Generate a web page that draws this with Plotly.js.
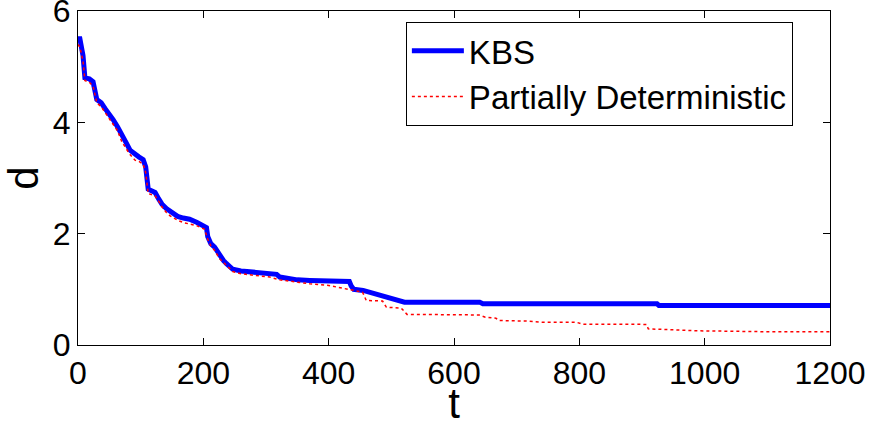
<!DOCTYPE html>
<html>
<head>
<meta charset="utf-8">
<script src="https://cdn.plot.ly/plotly-3.0.1.min.js"></script>
<style>
  html, body { margin: 0; padding: 0; background: #fff; }
  #chart { width: 872px; height: 427px; }
</style>
</head>
<body>
<div id="chart"></div>
<script>
// Distance d over time t for the two strategies
const tKBS = [0, 3, 8, 11, 18, 24, 30, 37, 43, 50, 56, 63, 70, 77, 83, 91, 97, 104, 108, 112, 118, 123, 129, 134, 141, 147, 153, 159, 168, 178, 190, 202, 205, 207, 212, 218, 222, 226, 232, 237, 242, 247, 260, 274, 290, 306, 317, 322, 333, 350, 370, 400, 433, 436, 440, 455, 465, 480, 490, 497, 510, 521, 560, 600, 641, 646, 700, 800, 924, 927, 1000, 1100, 1200];
const dKBS = [5.5, 5.5, 5.2, 4.8, 4.78, 4.73, 4.41, 4.35, 4.25, 4.15, 4.05, 3.92, 3.75, 3.63, 3.5, 3.42, 3.38, 3.33, 3.2, 2.8, 2.76, 2.74, 2.62, 2.53, 2.45, 2.4, 2.35, 2.31, 2.28, 2.26, 2.2, 2.12, 2.11, 1.95, 1.82, 1.76, 1.68, 1.6, 1.52, 1.46, 1.4, 1.36, 1.33, 1.31, 1.3, 1.28, 1.27, 1.22, 1.2, 1.17, 1.16, 1.15, 1.14, 1.06, 1.0, 0.98, 0.95, 0.9, 0.88, 0.86, 0.82, 0.77, 0.77, 0.77, 0.77, 0.74, 0.74, 0.74, 0.74, 0.71, 0.71, 0.71, 0.71];

const tPD = [0, 3, 8, 11, 18, 24, 30, 37, 43, 50, 56, 63, 70, 77, 83, 91, 97, 104, 108, 112, 118, 123, 129, 134, 141, 147, 153, 159, 168, 178, 190, 202, 207, 212, 218, 226, 237, 247, 260, 274, 290, 306, 322, 340, 370, 400, 434, 454, 460, 486, 492, 516, 525, 560, 600, 640, 650, 667, 672, 715, 741, 795, 805, 907, 910, 990, 1090, 1200];
const dPD = [5.4, 5.35, 5.1, 4.75, 4.72, 4.65, 4.35, 4.28, 4.18, 4.07, 3.97, 3.85, 3.65, 3.52, 3.42, 3.32, 3.3, 3.25, 3.1, 2.72, 2.7, 2.68, 2.58, 2.48, 2.38, 2.32, 2.28, 2.24, 2.2, 2.17, 2.14, 2.08, 1.9, 1.78, 1.7, 1.55, 1.42, 1.32, 1.28, 1.26, 1.25, 1.22, 1.17, 1.14, 1.1, 1.07, 1.0, 0.95, 0.8, 0.79, 0.68, 0.66, 0.55, 0.55, 0.54, 0.54, 0.5, 0.48, 0.44, 0.43, 0.41, 0.41, 0.375, 0.37, 0.29, 0.255, 0.24, 0.24];

const seriesNames = ['KBS', 'Partially Deterministic'];
const xTicks = [0, 200, 400, 600, 800, 1000, 1200];
const yTicks = [0, 2, 4, 6];

const FONT = 'Liberation Sans, Arial, sans-serif';

const traces = [
  {
    x: tKBS, y: dKBS, name: seriesNames[0], mode: 'lines', type: 'scatter',
    line: { color: 'rgb(0,0,255)', width: 5 }
  },
  {
    x: tPD, y: dPD, name: seriesNames[1], mode: 'lines', type: 'scatter',
    line: { color: 'rgb(255,0,0)', width: 1.5, dash: 'dot' }
  }
];

const axisCommon = {
  showline: true, linecolor: '#000', linewidth: 1, mirror: 'ticks',
  ticks: 'inside', ticklen: 7, tickcolor: '#000', tickwidth: 1,
  showgrid: false, zeroline: false,
  ticklabeloverflow: 'allow',
  tickfont: { family: FONT, size: 32, color: '#000' }
};

const layout = {
  width: 872, height: 427,
  margin: { l: 78, r: 42, t: 11, b: 82 },
  paper_bgcolor: '#fff', plot_bgcolor: '#fff',
  showlegend: true,
  xaxis: Object.assign({}, axisCommon, {
    range: [0, 1200], tickvals: xTicks, ticktext: xTicks.map(String),
    title: { text: 't', font: { family: FONT, size: 42, color: '#000' }, standoff: 2 }
  }),
  yaxis: Object.assign({}, axisCommon, {
    range: [0, 6], tickvals: yTicks, ticktext: yTicks.map(String),
    title: { text: 'd', font: { family: FONT, size: 42, color: '#000' }, standoff: 10 }
  }),
  legend: {
    x: 0.436, y: 0.968, xanchor: 'left', yanchor: 'top',
    bgcolor: '#fff', bordercolor: '#000', borderwidth: 1,
    font: { family: FONT, size: 33, color: '#000' },
    itemwidth: 52
  }
};

Plotly.newPlot('chart', traces, layout, { staticPlot: true, displayModeBar: false });
</script>
</body>
</html>
